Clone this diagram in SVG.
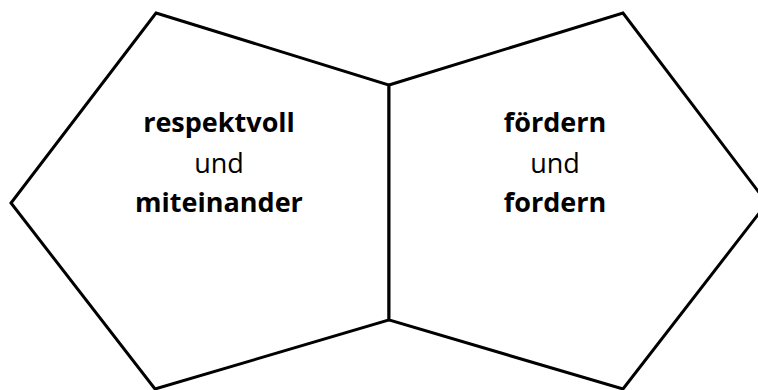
<svg xmlns="http://www.w3.org/2000/svg" width="758" height="390" viewBox="0 0 758 390">
<style>
.shape{fill:#fff;stroke:#000;stroke-width:3;stroke-linejoin:miter}
text{font-family:"Open Sans","Liberation Sans",sans-serif;font-size:27px;fill:#000;text-anchor:middle}
.b{font-weight:bold}
</style>
<rect width="758" height="390" fill="#fff"/>
<g id="left">
<polygon class="shape" points="156,13 389,85 389,320 155,389 11,203"/>
<text x="219" y="132" class="b">respektvoll</text>
<text x="219" y="173">und</text>
<text x="219" y="212" class="b">miteinander</text>
</g>
<g id="right">
<polygon class="shape" points="389,85 623,13 767,203 623,389 389,320"/>
<text x="555" y="132" class="b">fördern</text>
<text x="555" y="173">und</text>
<text x="555" y="212" class="b">fordern</text>
</g>
</svg>
